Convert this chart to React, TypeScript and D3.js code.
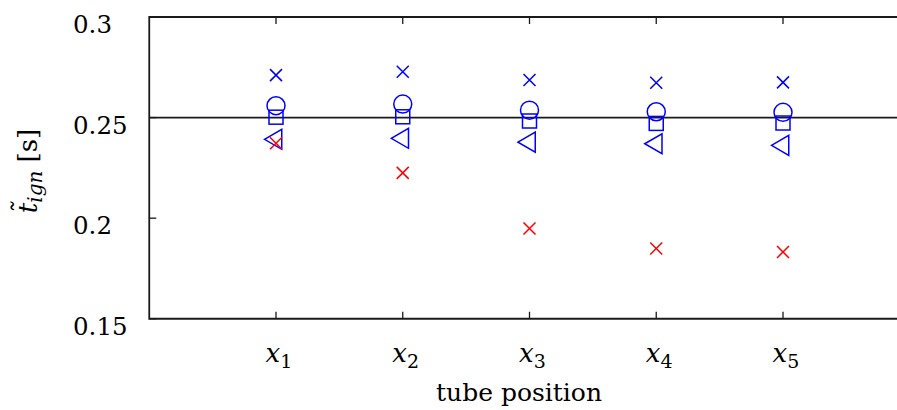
import * as React from "react"
import * as d3 from "d3"

const positions = [1, 2, 3, 4, 5]
const positionLabels = ["1", "2", "3", "4", "5"]
const yTicks = [0.15, 0.2, 0.25, 0.3]
const yTickLabels = ["0.15", "0.2", "0.25", "0.3"]

// measured / simulated ignition times per tube position
const blueCross = [0.2711, 0.2728, 0.2687, 0.2673, 0.2675]
const circles = [0.2559, 0.2567, 0.2537, 0.2529, 0.2526]
const squares = [0.2502, 0.2504, 0.2483, 0.2471, 0.2473]
const triangles = [0.2392, 0.2397, 0.2378, 0.237, 0.2362]
const redCross = [0.2372, 0.2225, 0.1949, 0.1849, 0.1832]
const reference = 0.25

const W = 897
const H = 410
const FONT = "'DejaVu Serif', serif"
const BLUE = "#0000ff"
const RED = "#ff0000"
const AXIS = "#1a1a1a"

export default function App() {
    const x = d3.scaleLinear().domain([0, 6]).range([149.25, 909.75])
    const y = d3.scaleLinear().domain([0.15, 0.3]).range([318.75, 17])

    const left = x(0)
    const top = y(0.3)
    const bottom = y(0.15)

    const cross = (vals: number[], color: string, key: string) =>
        vals.map((v, i) => {
            const cx = x(positions[i])
            const cy = y(v)
            const s = 6
            return (
                <path
                    key={key + i}
                    d={`M${cx - s},${cy - s}L${cx + s},${cy + s}M${cx - s},${cy + s}L${cx + s},${cy - s}`}
                    stroke={color}
                    strokeWidth={1.5}
                    fill="none"
                />
            )
        })

    return (
        <svg
            width={W}
            height={H}
            style={{ position: "absolute", left: 0, top: 0, background: "#fff" }}
            fontFamily={FONT}
        >
            {/* reference line */}
            <line x1={left} x2={W} y1={y(reference)} y2={y(reference)} stroke={AXIS} strokeWidth={1.6} />

            {/* frame */}
            <path
                d={`M${W},${top}H${left}V${bottom}H${W}`}
                fill="none"
                stroke={AXIS}
                strokeWidth={1.8}
            />

            {/* y ticks */}
            {yTicks.map((t, i) => (
                <g key={"yt" + i}>
                    <line x1={left} x2={left + 7} y1={y(t)} y2={y(t)} stroke={AXIS} strokeWidth={1.3} />
                    <text x={73} y={y(t) + 16} fontSize={24.5} fill="#000">
                        {yTickLabels[i]}
                    </text>
                </g>
            ))}

            {/* x ticks */}
            {positions.map((p, i) => (
                <g key={"xt" + i}>
                    <line x1={x(p)} x2={x(p)} y1={bottom} y2={bottom - 7} stroke={AXIS} strokeWidth={1.3} />
                    <line x1={x(p)} x2={x(p)} y1={top} y2={top + 7} stroke={AXIS} strokeWidth={1.3} />
                    <text x={x(p) + 3} y={362} fontSize={26} textAnchor="middle" fill="#000">
                        <tspan fontStyle="italic">x</tspan>
                        <tspan fontSize={19} dy={6}>{positionLabels[i]}</tspan>
                    </text>
                </g>
            ))}

            {/* axis titles */}
            <text x={519} y={401} fontSize={25} textAnchor="middle" fill="#000">
                tube position
            </text>
            <text
                transform={`translate(37,171) rotate(-90)`}
                fontSize={26}
                textAnchor="middle"
                fill="#000"
            >
                <tspan fontStyle="italic">{"t\u0303"}</tspan>
                <tspan fontStyle="italic" fontSize={20} dy={5}>ign</tspan>
                <tspan dy={-5}>{" [s]"}</tspan>
            </text>

            {/* markers */}
            {cross(blueCross, BLUE, "bc")}
            {circles.map((v, i) => (
                <circle key={"c" + i} cx={x(positions[i])} cy={y(v)} r={9} fill="none" stroke={BLUE} strokeWidth={1.5} />
            ))}
            {squares.map((v, i) => (
                <rect
                    key={"s" + i}
                    x={x(positions[i]) - 7}
                    y={y(v) - 7}
                    width={14}
                    height={14}
                    fill="none"
                    stroke={BLUE}
                    strokeWidth={1.5}
                />
            ))}
            {triangles.map((v, i) => {
                const cx = x(positions[i])
                const cy = y(v)
                return (
                    <path
                        key={"t" + i}
                        d={`M${cx - 11.5},${cy}L${cx + 5.75},${cy - 10}L${cx + 5.75},${cy + 10}Z`}
                        fill="none"
                        stroke={BLUE}
                        strokeWidth={1.5}
                    />
                )
            })}
            {cross(redCross, RED, "rc")}
        </svg>
    )
}
